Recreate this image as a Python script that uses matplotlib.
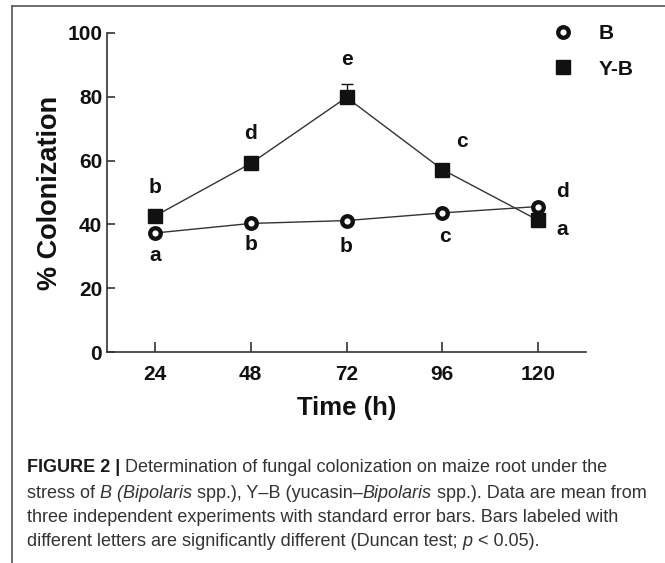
import matplotlib
matplotlib.use('Agg')
import matplotlib.pyplot as plt
from matplotlib.lines import Line2D

# ---------------- data ----------------
time_h = [24, 48, 72, 96, 120]
b_values = [37.3, 40.3, 41.2, 43.6, 45.6]
yb_values = [42.6, 59.1, 79.8, 57.2, 41.3]
yb_err_upper = [0, 0, 4.3, 0, 0]
b_letters = ['a', 'b', 'b', 'c', 'd']
yb_letters = ['b', 'd', 'e', 'c', 'a']
y_ticks = [0, 20, 40, 60, 80, 100]
series_names = ['B', 'Y-B']

# annotation positions (letters)
b_letter_x = [24, 48, 72, 96.7, 126]
b_letter_y = [30.3, 33.7, 33.1, 36.3, 50.4]
yb_letter_x = [24, 48, 72, 100.8, 126]
yb_letter_y = [51.6, 68.4, 91.6, 66.0, 38.4]

W, H = 665, 563
plt.rcParams['font.family'] = ['Liberation Sans', 'DejaVu Sans']
fig = plt.figure(figsize=(W / 100, H / 100), dpi=100)

ax_l, ax_r, ax_t, ax_b = 107, 586, 33, 352
ax = fig.add_axes([ax_l / W, 1 - ax_b / H, (ax_r - ax_l) / W, (ax_b - ax_t) / H])

ink = '#111111'
line_c = '#333333'

b_marker = dict(marker='o', ms=7.6, mfc='white', mec=ink, mew=3.1)
yb_marker = dict(marker='s', ms=9.5, mfc=ink, mec=ink)

ax.errorbar(time_h, yb_values, yerr=[[0] * len(yb_err_upper), yb_err_upper],
            fmt='none', ecolor=ink, elinewidth=1.0, capsize=4.5, capthick=1.0, zorder=2)
ax.plot(time_h, b_values, color=line_c, lw=1.0, zorder=3, **b_marker)
ax.plot(time_h, yb_values, color=line_c, lw=1.0, zorder=4, **yb_marker)

for x, y, s in zip(b_letter_x, b_letter_y, b_letters):
    ax.text(x, y, s, ha='center', va='center', fontsize=15, fontweight='bold', color=ink)
for x, y, s in zip(yb_letter_x, yb_letter_y, yb_letters):
    ax.text(x, y, s, ha='center', va='center', fontsize=15, fontweight='bold', color=ink)

ax.set_xlim(12, 132)
ax.set_ylim(0, 100)
ax.set_xticks(time_h)
ax.set_yticks(y_ticks)
ax.spines['top'].set_visible(False)
ax.spines['right'].set_visible(False)
for sp in ('left', 'bottom'):
    ax.spines[sp].set_linewidth(1.2)
    ax.spines[sp].set_color('#333333')
ax.tick_params(axis='x', direction='in', length=7, width=1.2, color='#333333', pad=9,
               labelsize=15)
ax.tick_params(axis='y', direction='in', length=6, width=1.2, color='#333333', pad=3.5,
               labelsize=15)
for lab in ax.get_xticklabels() + ax.get_yticklabels():
    lab.set_fontweight('bold')
    lab.set_color(ink)

ax.set_ylabel('% Colonization', fontsize=19.5, fontweight='bold', color=ink, va='center')
ax.yaxis.set_label_coords((50 - ax_l) / (ax_r - ax_l), 0.5)
ax.set_xlabel('Time (h)', fontsize=18.5, fontweight='bold', color=ink, va='center')
ax.xaxis.set_label_coords(0.5, (ax_b - 408) / (ax_b - ax_t))

handles = [Line2D([], [], ls='none', **b_marker),
           Line2D([], [], ls='none', **yb_marker)]
leg = fig.legend(handles, series_names, loc='upper left',
                 bbox_to_anchor=(552.5 / W, 1 - 24 / H), frameon=False,
                 borderpad=0, borderaxespad=0, handlelength=1.0, handletextpad=1.2,
                 labelspacing=0.8, prop={'size': 15, 'weight': 'bold'})
for t in leg.get_texts():
    t.set_color(ink)

# border lines of the figure panel
fig.add_artist(Line2D([12 / W, 1], [1 - 6 / H, 1 - 6 / H], transform=fig.transFigure,
                      color='#555555', lw=1.2))
fig.add_artist(Line2D([12 / W, 12 / W], [1 - 6 / H, 0], transform=fig.transFigure,
                      color='#555555', lw=1.2))

# caption
cap_lines = [
    [('FIGURE 2 |', 'normal', 'bold'), (' Determination of fungal colonization on maize root under the', 'normal', 'normal')],
    [('stress of ', 'normal', 'normal'), ('B (Bipolaris', 'italic', 'normal'), (' spp.), Y\u2013B (yucasin\u2013', 'normal', 'normal'),
     ('Bipolaris', 'italic', 'normal'), (' spp.). Data are mean from', 'normal', 'normal')],
    [('three independent experiments with standard error bars. Bars labeled with', 'normal', 'normal')],
    [('different letters are significantly different (Duncan test; ', 'normal', 'normal'), ('p', 'italic', 'normal'),
     (' < 0.05).', 'normal', 'normal')],
]
cap_y = [468, 494, 518, 542]
cap_x0 = 27

fig.canvas.draw()
renderer = fig.canvas.get_renderer()

# fit caption size to reference width of line 3
probe = fig.text(0, 0, cap_lines[2][0][0], fontsize=12)
w12 = probe.get_window_extent(renderer).width
probe.remove()
cap_size = 12 * (618 - cap_x0) / w12


def space_width(style, weight):
    a = fig.text(0, 0, 'a a', fontsize=cap_size, fontstyle=style, fontweight=weight)
    b = fig.text(0, 0, 'aa', fontsize=cap_size, fontstyle=style, fontweight=weight)
    w = a.get_window_extent(renderer).width - b.get_window_extent(renderer).width
    a.remove(); b.remove()
    return w


for segs, yp in zip(cap_lines, cap_y):
    x = cap_x0
    for txt, style, weight in segs:
        sw = space_width(style, weight)
        lead = len(txt) - len(txt.lstrip(' '))
        trail = len(txt) - len(txt.rstrip(' '))
        x += lead * sw
        core = txt.strip(' ')
        col = '#1a1a1a' if weight == 'bold' else '#333333'
        t = fig.text(x / W, 1 - yp / H, core, fontsize=cap_size, fontstyle=style,
                     fontweight=weight, ha='left', va='center', color=col)
        x += t.get_window_extent(renderer).width + trail * sw

fig.savefig('out.png', dpi=100)
